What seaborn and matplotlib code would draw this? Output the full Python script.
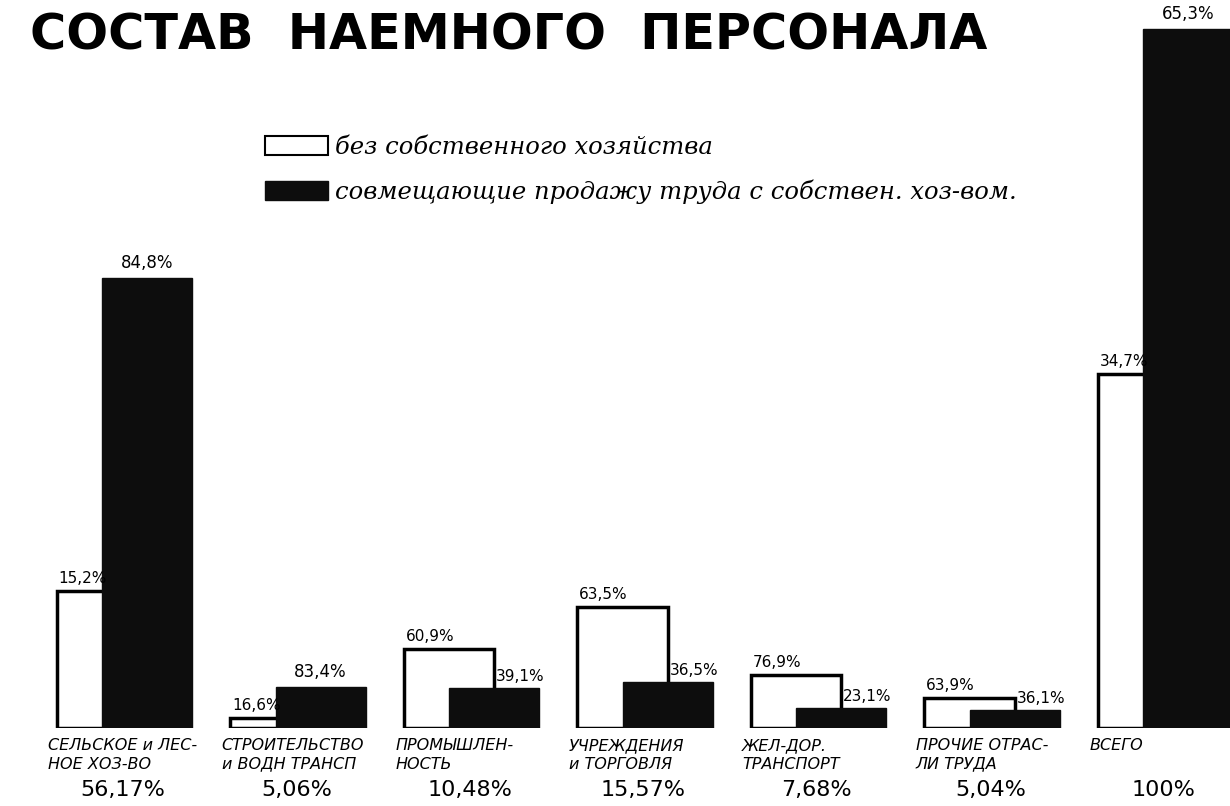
import numpy as np
import pandas as pd
import matplotlib
matplotlib.use("Agg")
import matplotlib.pyplot as plt
import seaborn as sns
from matplotlib.patches import Patch

# branches (captions as written under the bars)
categories = ["СЕЛЬСКОЕ и ЛЕС-\nНОЕ ХОЗ-ВО", "СТРОИТЕЛЬСТВО\nи ВОДН ТРАНСП", "ПРОМЫШЛЕН-\nНОСТЬ",
              "УЧРЕЖДЕНИЯ\nи ТОРГОВЛЯ", "ЖЕЛ-ДОР.\nТРАНСПОРТ", "ПРОЧИЕ ОТРАС-\nЛИ ТРУДА", "ВСЕГО"]
shares = ["56,17%", "5,06%", "10,48%", "15,57%", "7,68%", "5,04%", "100%"]

# bar heights as drawn on the sheet (arbitrary units)
h_white = [137, 10, 79, 121, 53, 30, 354]
h_black = [450, 41, 40, 46, 20, 18, 699]
lab_white = ["15,2%", "16,6%", "60,9%", "63,5%", "76,9%", "63,9%", "34,7%"]
lab_black = ["84,8%", "83,4%", "39,1%", "36,5%", "23,1%", "36,1%", "65,3%"]

legend_labels = ["без собственного хозяйства",
                 "совмещающие продажу труда с собствен. хоз-вом."]
title = "СОСТАВ  НАЕМНОГО  ПЕРСОНАЛА"

sns.set_theme(style="white")
plt.rcParams["font.family"] = ["DejaVu Sans"]
plt.rcParams["text.color"] = "black"

W = 0.52
df = pd.DataFrame({"pos": np.arange(len(categories)), "white": h_white, "black": h_black})
df["pos_black"] = df["pos"] + W / 2

fig = plt.figure(figsize=(12.3, 8.06), dpi=100)
ax = fig.add_axes([0, 78 / 806, 1, 728 / 806])

# white bars first, black ones shifted by half a bar on top of them
sns.barplot(data=df, x="pos", y="white", native_scale=True, orient="x", width=W,
            color="white", edgecolor="black", linewidth=2.5, saturation=1, errorbar=None, ax=ax)
sns.barplot(data=df, x="pos_black", y="black", native_scale=True, orient="x", width=W,
            color="#0d0d0d", edgecolor="#0d0d0d", linewidth=1, saturation=1, errorbar=None, ax=ax)

ax.set_xlim(-102 / 173.5, 1128 / 173.5)
ax.set_ylim(0, 728)
ax.axis("off")

for i in range(len(categories)):
    ax.text(i - W / 2 + 0.01, h_white[i] + 5, lab_white[i], ha="left", va="bottom", fontsize=11)
    if h_black[i] > h_white[i]:
        ax.text(i + W / 2, h_black[i] + 6, lab_black[i], ha="center", va="bottom", fontsize=12)
    else:
        ax.text(i + W / 2 + 0.01, h_black[i] + 4, lab_black[i], ha="left", va="bottom", fontsize=11)
    ax.text(i - W / 2 - 0.05, -10, categories[i], ha="left", va="top", fontsize=11.5,
            style="italic", linespacing=1.3, clip_on=False)
    ax.text(i + 0.12, -62, shares[i], ha="center", va="center", fontsize=16, clip_on=False)

fig.text(30 / 1230, 1 - 36 / 806, title, ha="left", va="center", fontsize=35.5,
         fontweight="bold")

handles = [Patch(facecolor="white", edgecolor="black", linewidth=1.5),
           Patch(facecolor="#0d0d0d", edgecolor="#0d0d0d")]
leg = fig.legend(handles, legend_labels, loc="upper left",
                 bbox_to_anchor=(265 / 1230, 1 - 136 / 806), frameon=False,
                 fontsize=17.5, handlelength=2.6, handleheight=0.8, handletextpad=0.3,
                 labelspacing=0.85, borderpad=0, borderaxespad=0)
for t in leg.get_texts():
    t.set_fontfamily("DejaVu Serif")
    t.set_fontstyle("italic")

fig.savefig("out.png", dpi=100)
